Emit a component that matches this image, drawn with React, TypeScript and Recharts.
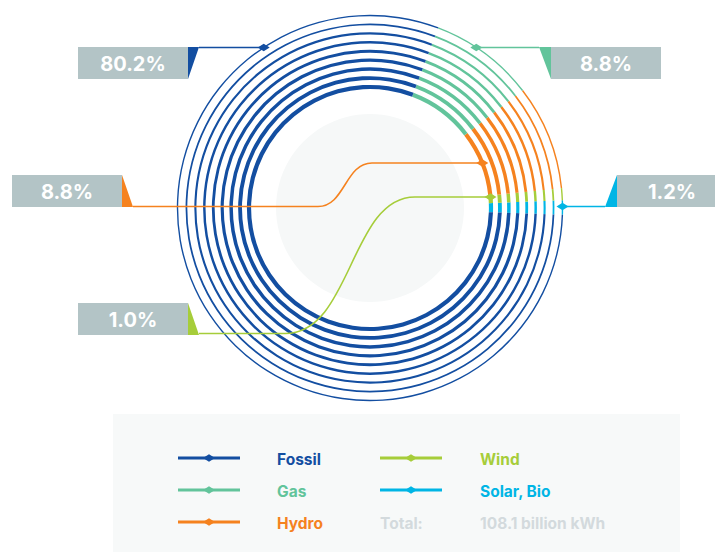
import React from "react";
import { PieChart, Pie, Cell } from "recharts";

// generation mix, share of total in percent
const categories = ["Solar, Bio", "Wind", "Hydro", "Gas", "Fossil"];
const shares = [1.2, 1.0, 8.8, 8.8, 80.2];
const palette = ["#00b5e5", "#a6cd3a", "#f5821f", "#62c49b", "#134ea1"];
const legendOrder = ["Fossil", "Gas", "Hydro", "Wind", "Solar, Bio"];
const totalLabel = "Total:";
const totalValue = "108.1 billion kWh";

const W = 715;
const H = 552;
const CX = 370;
const CY = 208;
const RING_COUNT = 9;
const R_IN = 121;
const R_OUT = 192.5;
const FONT = "Inter, 'Noto Sans', sans-serif";
const BOX_FILL = "#b3c4c6";

const data = categories.map((name, i) => ({ name, value: shares[i], color: palette[i] }));
const colorOf = (name: string) => data.find((d) => d.name === name)!.color;
const shareOf = (name: string) => data.find((d) => d.name === name)!.value;

// thick inner rings, thinner toward the outside
const rings = Array.from({ length: RING_COUNT }, (_, i) => {
  const t = i / (RING_COUNT - 1);
  return { r: R_IN + (R_OUT - R_IN) * t, w: 4.2 - 2.8 * t };
});

// x on a ring for a given y (side: 1 = right, -1 = left)
const onRing = (r: number, y: number, side: number) =>
  CX + side * Math.sqrt(r * r - (y - CY) * (y - CY));

type Callout = {
  name: string;
  box: [number, number]; // left, top
  flag: "tr" | "tl" | "br" | "bl";
  anchorY: number;
  ring: number;
  side: number;
  path: (ax: number) => string;
};

const BW = 110;
const BH = 32;

const callouts: Callout[] = [
  {
    name: "Fossil", box: [78, 47], flag: "tr", anchorY: 47.5, ring: R_OUT, side: -1,
    path: (ax) => `M199 47.5 L${ax} 47.5`,
  },
  {
    name: "Gas", box: [551, 47], flag: "tl", anchorY: 47.5, ring: R_OUT, side: 1,
    path: (ax) => `M539 47.5 L${ax} 47.5`,
  },
  {
    name: "Hydro", box: [12, 175], flag: "br", anchorY: 163, ring: R_IN, side: 1,
    path: (ax) => `M133 206.5 L318 206.5 C345 206.5 345 163 372 163 L${ax} 163`,
  },
  {
    name: "Wind", box: [78, 303], flag: "br", anchorY: 197, ring: R_IN, side: 1,
    path: (ax) => `M199 333.5 L285 333.5 C352 333.5 350 197 415 197 L${ax} 197`,
  },
  {
    name: "Solar, Bio", box: [617, 175], flag: "bl", anchorY: 206.5, ring: R_OUT, side: 1,
    path: (ax) => `M605 206.5 L${ax} 206.5`,
  },
];

const flagPoints = (c: Callout) => {
  const [x, y] = c.box;
  const r = x + BW;
  const b = y + BH;
  switch (c.flag) {
    case "tr": return `${r},${y} ${r + 11},${y} ${r},${b}`;
    case "tl": return `${x - 12},${y} ${x},${y} ${x},${b}`;
    case "br": return `${r},${y} ${r},${b} ${r + 11},${b}`;
    default: return `${x},${y} ${x},${b} ${x - 12},${b}`;
  }
};

const Diamond = ({ x, y, color }: { x: number; y: number; color: string }) => (
  <polygon points={`${x - 6},${y} ${x},${y - 3.8} ${x + 6},${y} ${x},${y + 3.8}`} fill={color} />
);

// callout lines, value boxes and the legend, drawn over the rings
const Annotations = () => (
  <svg
    width={W}
    height={H}
    style={{ position: "absolute", left: 0, top: 0, pointerEvents: "none" }}
  >
    {callouts.map((c) => {
      const color = colorOf(c.name);
      const ax = onRing(c.ring, c.anchorY, c.side);
      return (
        <g key={c.name}>
          <path d={c.path(ax)} fill="none" stroke={color} strokeWidth={1.6} />
          <Diamond x={ax} y={c.anchorY} color={color} />
          <rect x={c.box[0]} y={c.box[1]} width={BW} height={BH} fill={BOX_FILL} />
          <polygon points={flagPoints(c)} fill={color} />
          <text
            x={c.box[0] + BW / 2}
            y={c.box[1] + BH / 2 + 1}
            textAnchor="middle"
            dominantBaseline="central"
            fill="#fff"
            fontFamily={FONT}
            fontWeight={700}
            fontSize={20}
          >
            {shareOf(c.name).toFixed(1)}%
          </text>
        </g>
      );
    })}

    <rect x={113} y={414} width={567} height={138} fill="#f7f9f9" />
    {legendOrder.map((name, i) => {
      const col = Math.floor(i / 3);
      const row = i % 3;
      const lx = col === 0 ? 178 : 380;
      const tx = col === 0 ? 277 : 480;
      const y = 458 + row * 32;
      const color = colorOf(name);
      return (
        <g key={name}>
          <line x1={lx} x2={lx + 62} y1={y} y2={y} stroke={color} strokeWidth={3} />
          <Diamond x={lx + 31} y={y} color={color} />
          <text x={tx} y={y + 1} dominantBaseline="central" fill={color}
            fontFamily={FONT} fontWeight={700} fontSize={15.5}>
            {name}
          </text>
        </g>
      );
    })}
    <text x={380} y={523} dominantBaseline="central" fill="#d3dadd"
      fontFamily={FONT} fontWeight={700} fontSize={15.5}>
      {totalLabel}
    </text>
    <text x={480} y={523} dominantBaseline="central" fill="#d3dadd"
      fontFamily={FONT} fontWeight={700} fontSize={15.5}>
      {totalValue}
    </text>
  </svg>
);

export default function App() {
  return (
    <div style={{ position: "absolute", left: 0, top: 0, width: W, height: H, background: "#fff" }}>
      <PieChart width={W} height={H} margin={{ top: 0, right: 0, bottom: 0, left: 0 }}>
        {/* soft disc in the middle */}
        <Pie
          data={[{ name: "bg", value: 1 }]}
          dataKey="value"
          cx={CX}
          cy={CY}
          innerRadius={0}
          outerRadius={94}
          fill="#f6f8f8"
          stroke="none"
          isAnimationActive={false}
        />
        {rings.map((ring, i) => (
          <Pie
            key={i}
            data={data}
            dataKey="value"
            nameKey="name"
            cx={CX}
            cy={CY}
            innerRadius={ring.r - ring.w / 2}
            outerRadius={ring.r + ring.w / 2}
            startAngle={-2}
            endAngle={358}
            stroke="none"
            isAnimationActive={false}
          >
            {data.map((d) => (
              <Cell key={d.name} fill={d.color} />
            ))}
          </Pie>
        ))}
      </PieChart>
      <Annotations />
    </div>
  );
}
